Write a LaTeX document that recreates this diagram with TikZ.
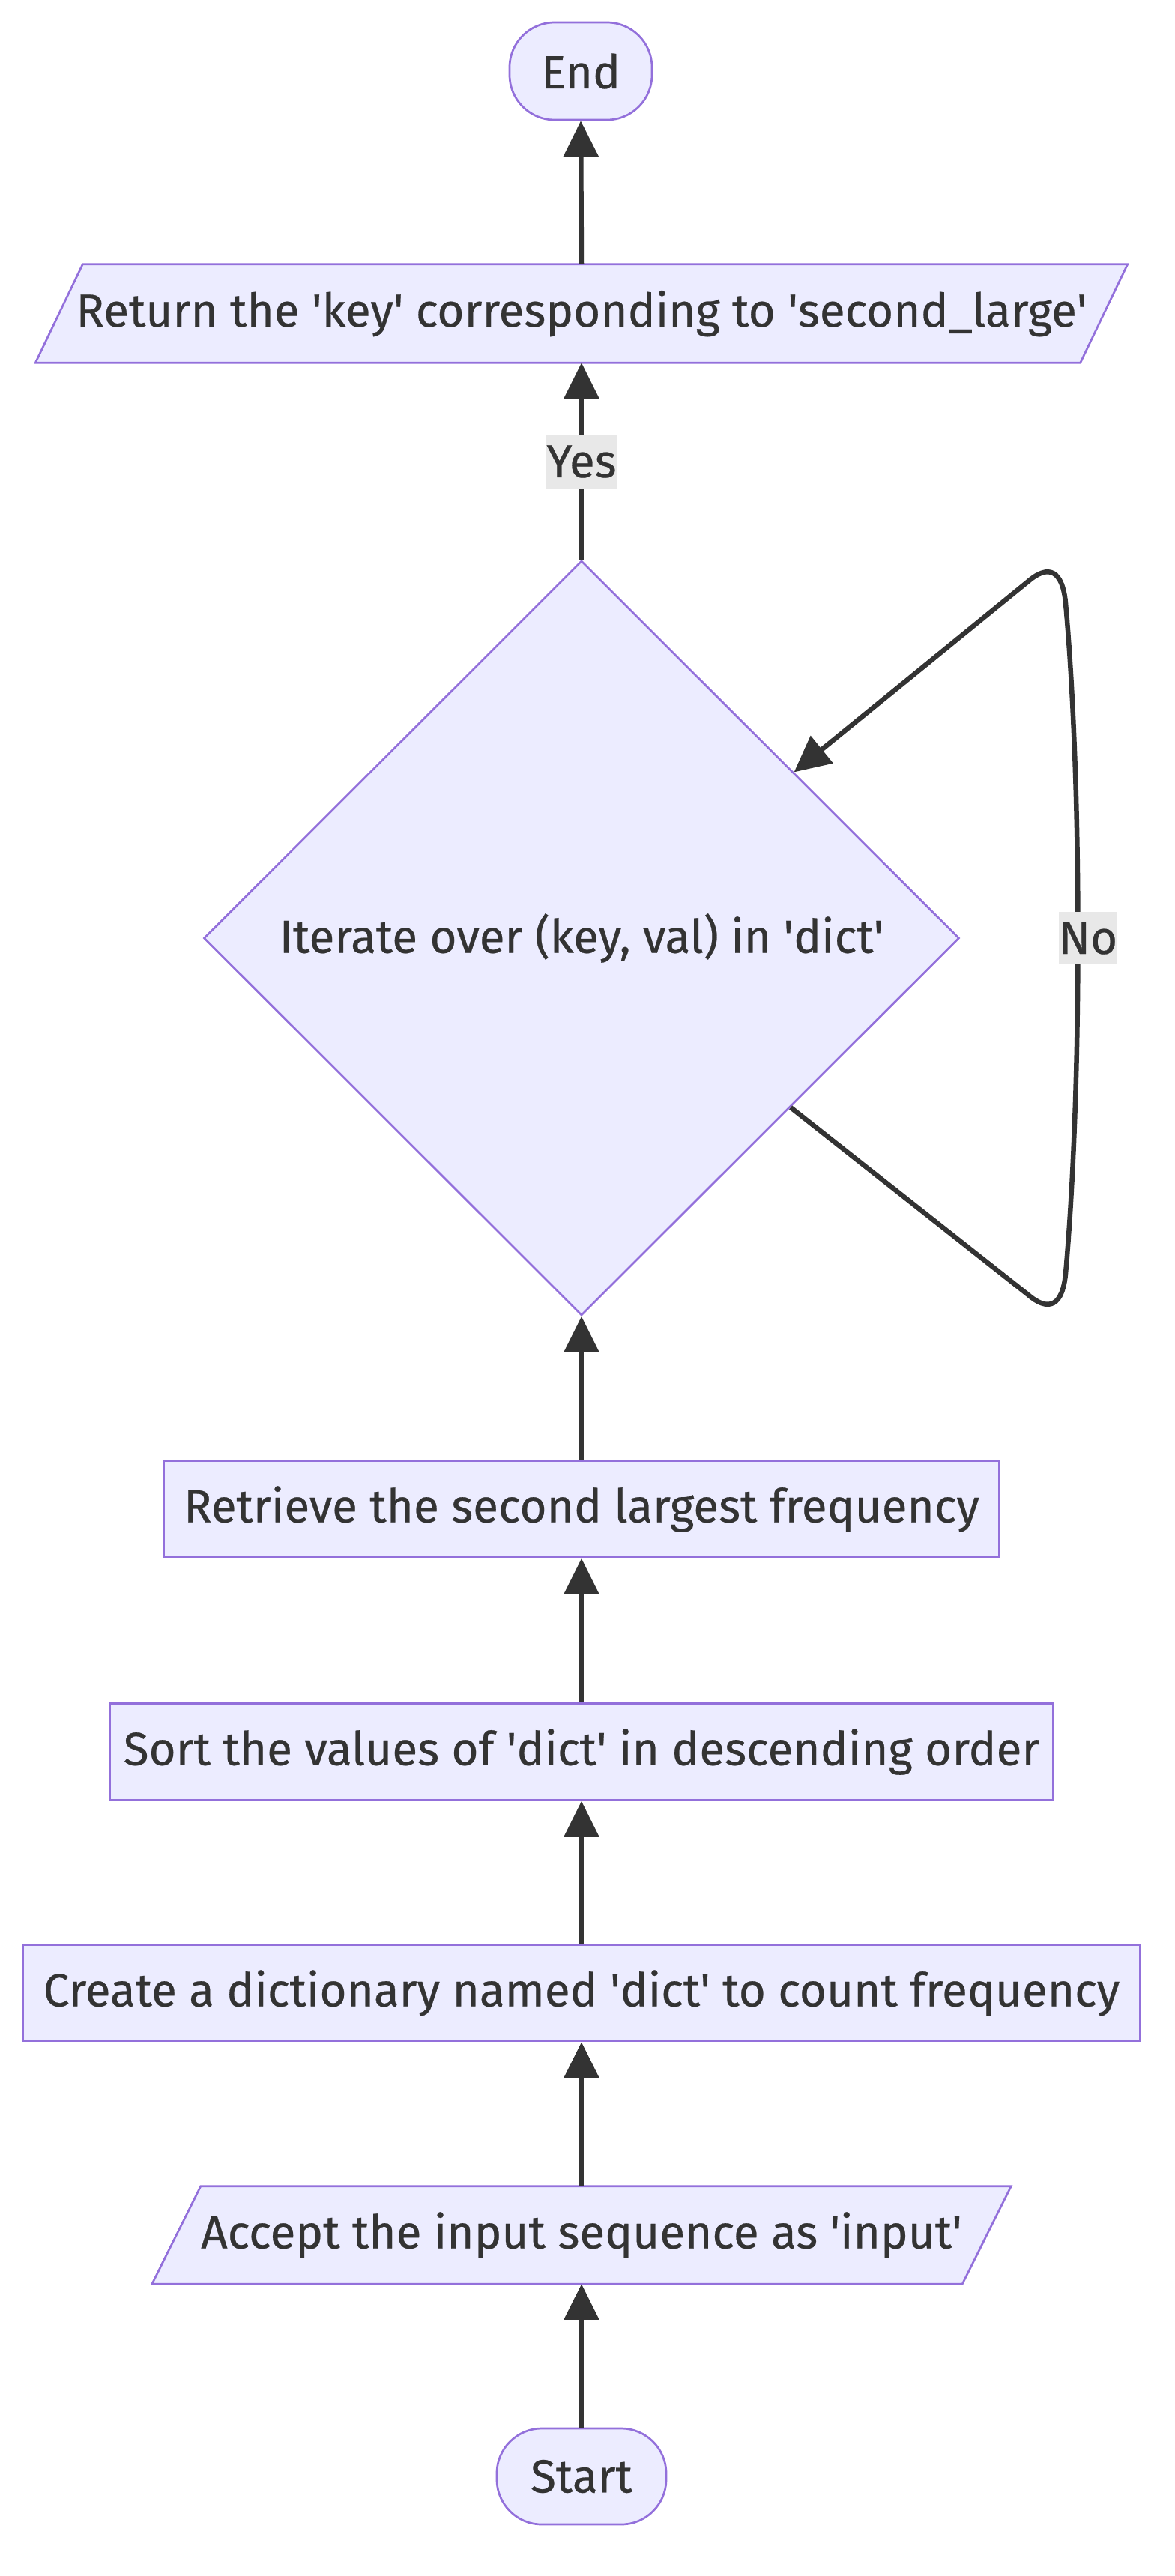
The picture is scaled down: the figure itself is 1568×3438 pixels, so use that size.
\documentclass[tikz,border=0pt]{standalone}
\usepackage{fontspec}
\setmainfont{Fira Sans}[FakeBold=0.4]
\usetikzlibrary{shapes.geometric,arrows.meta,calc,backgrounds}
\definecolor{nodefill}{HTML}{ECECFF}
\definecolor{nodeline}{HTML}{9370DB}
\definecolor{ink}{HTML}{333333}
\definecolor{lblbg}{HTML}{E8E8E8}
\newcommand{\sq}{\textquotesingle}
\begin{document}
\begin{tikzpicture}[x=1pt,y=-1pt,
  every node/.style={font=\fontsize{62}{74}\selectfont, text=ink},
  box/.style={draw=nodeline, fill=nodefill, line width=2.7pt, inner sep=0pt},
  term/.style={box, rounded corners=60pt},
  iobox/.style={inner sep=0pt},
  para/.style={draw=nodeline, fill=nodefill, line width=2.7pt},
  decision/.style={diamond, shape aspect=1, draw=nodeline, fill=nodefill,
    line width=2.7pt, inner sep=0pt, minimum width=1008pt, minimum height=1007pt},
  flow/.style={draw=ink, line width=6.5pt, -{Triangle[length=48pt,width=46pt]}},
  lbl/.style={fill=lblbg, inner sep=0pt}
]
\useasboundingbox (0,0) rectangle (1568,3438);

% nodes, top to bottom
\node[term, minimum width=190pt, minimum height=130pt] (endn) at (775,95) {End};
\node[iobox, minimum width=1394pt, minimum height=131pt] (ret) at (776,418.5)
  {Return the \sq key\sq{} corresponding to \sq second\_large\sq};
\node[decision] (dec) at (776,1252) {Iterate over (key, val) in \sq dict\sq};
\node[box, minimum width=1114pt, minimum height=129pt] (retr) at (776,2014)
  {Retrieve the second largest frequency};
\node[box, minimum width=1258pt, minimum height=129pt] (sort) at (776,2338)
  {Sort the values of \sq dict\sq{} in descending order};
\node[box, minimum width=1490pt, minimum height=128pt] (create) at (776,2660)
  {Create a dictionary named \sq dict\sq{} to count frequency};
\node[iobox, minimum width=1081pt, minimum height=130pt] (acc) at (776,2983)
  {Accept the input sequence as \sq input\sq};
\node[term, minimum width=226pt, minimum height=128pt] (start) at (776,3305) {Start};

% slanted input/output shapes behind their texts
\begin{scope}[on background layer]
  \draw[para] ($(ret.south west)+(-31.5,0)$) -- ($(ret.north west)+(31.5,0)$)
    -- ($(ret.north east)+(31.5,0)$) -- ($(ret.south east)+(-31.5,0)$) -- cycle;
  \draw[para] ($(acc.south west)+(-32.5,0)$) -- ($(acc.north west)+(32.5,0)$)
    -- ($(acc.north east)+(32.5,0)$) -- ($(acc.south east)+(-32.5,0)$) -- cycle;
\end{scope}

% connectors
\draw[flow] (start.north) -- (acc.south);
\draw[flow] (acc.north) -- (create.south);
\draw[flow] (create.north) -- (sort.south);
\draw[flow] (sort.north) -- (retr.south);
\draw[flow] (retr.north) -- (dec.south);
\draw[flow] (dec.north) -- (ret.south);
\draw[flow] (ret.north) -- (endn.south);
\draw[flow] (dec.-39) -- (1372,1728)
  .. controls (1400,1752) and (1418,1742) .. (1422,1700)
  .. controls (1444,1450) and (1444,1050) .. (1422,805)
  .. controls (1418,762) and (1400,752) .. (1372,776) -- (dec.38);

% edge labels
\node[lbl, minimum width=85pt, minimum height=71pt] (yes) at (776,616) {Yes};
\node[lbl, minimum width=71pt, minimum height=70pt] (no) at (1452,1252) {No};
\end{tikzpicture}
\end{document}
